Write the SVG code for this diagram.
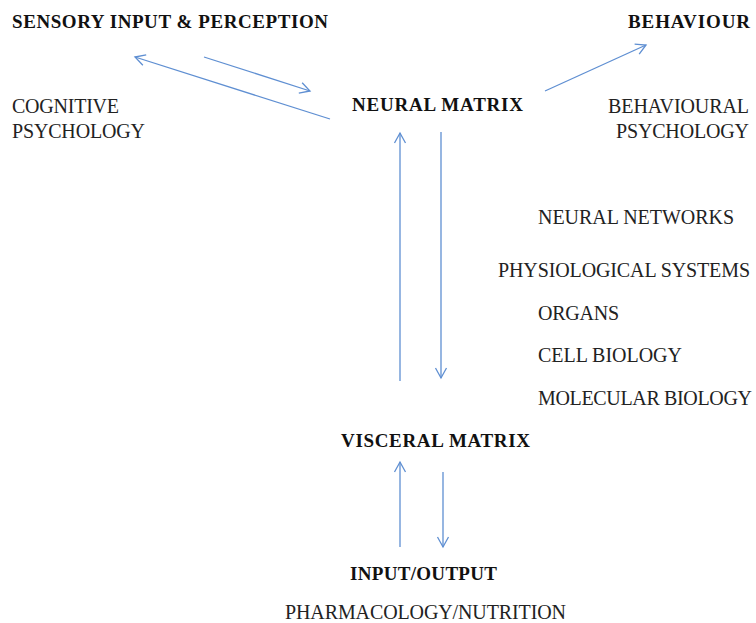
<svg xmlns="http://www.w3.org/2000/svg" width="756" height="623" viewBox="0 0 756 623">
<defs>
<style>
.t{font-family:"Liberation Serif","Times New Roman",serif;font-size:20px;fill:#222}
.b{font-weight:bold;fill:#111;font-size:19px}
.c{stroke:#5f8fd2;stroke-width:1.3;fill:none;marker-end:url(#ah)}
</style>
<marker id="ah" markerUnits="userSpaceOnUse" markerWidth="14" markerHeight="14" viewBox="0 0 14 14" refX="12" refY="7" orient="auto">
<path d="M2,1.5 L12,7 L2,12.5" fill="none" stroke="#5f8fd2" stroke-width="1.3"/>
</marker>
</defs>
<rect width="756" height="623" fill="#fff"/>
<g id="connectors">
<line class="c" x1="330" y1="119" x2="135" y2="57"/>
<line class="c" x1="204" y1="57" x2="310" y2="91"/>
<line class="c" x1="545" y1="91" x2="646" y2="45"/>
<line class="c" x1="400" y1="381" x2="400" y2="133"/>
<line class="c" x1="441" y1="132" x2="441" y2="378"/>
<line class="c" x1="400" y1="547" x2="400" y2="462"/>
<line class="c" x1="443" y1="472" x2="443" y2="547"/>
</g>
<g id="sensory"><text class="t b" x="12" y="28" textLength="316">SENSORY INPUT &amp; PERCEPTION</text></g>
<g id="behaviour"><text class="t b" x="628" y="28" textLength="122">BEHAVIOUR</text></g>
<g id="cognitive"><text class="t" x="12" y="113" textLength="107">COGNITIVE</text><text class="t" x="12" y="138" textLength="133">PSYCHOLOGY</text></g>
<g id="neural-matrix"><text class="t b" x="352" y="111" textLength="171">NEURAL MATRIX</text></g>
<g id="behavioural"><text class="t" x="608" y="113" textLength="141">BEHAVIOURAL</text><text class="t" x="616" y="138" textLength="133">PSYCHOLOGY</text></g>
<g id="levels">
<text class="t" x="538" y="224" textLength="196">NEURAL NETWORKS</text>
<text class="t" x="498" y="277" textLength="252">PHYSIOLOGICAL SYSTEMS</text>
<text class="t" x="538" y="320" textLength="81">ORGANS</text>
<text class="t" x="538" y="362" textLength="144">CELL BIOLOGY</text>
<text class="t" x="538" y="405" textLength="214">MOLECULAR BIOLOGY</text>
</g>
<g id="visceral-matrix"><text class="t b" x="341" y="447" textLength="189">VISCERAL MATRIX</text></g>
<g id="input-output"><text class="t b" x="350" y="580" textLength="147">INPUT/OUTPUT</text></g>
<g id="pharmacology"><text class="t" x="285" y="619" textLength="281">PHARMACOLOGY/NUTRITION</text></g>
</svg>
